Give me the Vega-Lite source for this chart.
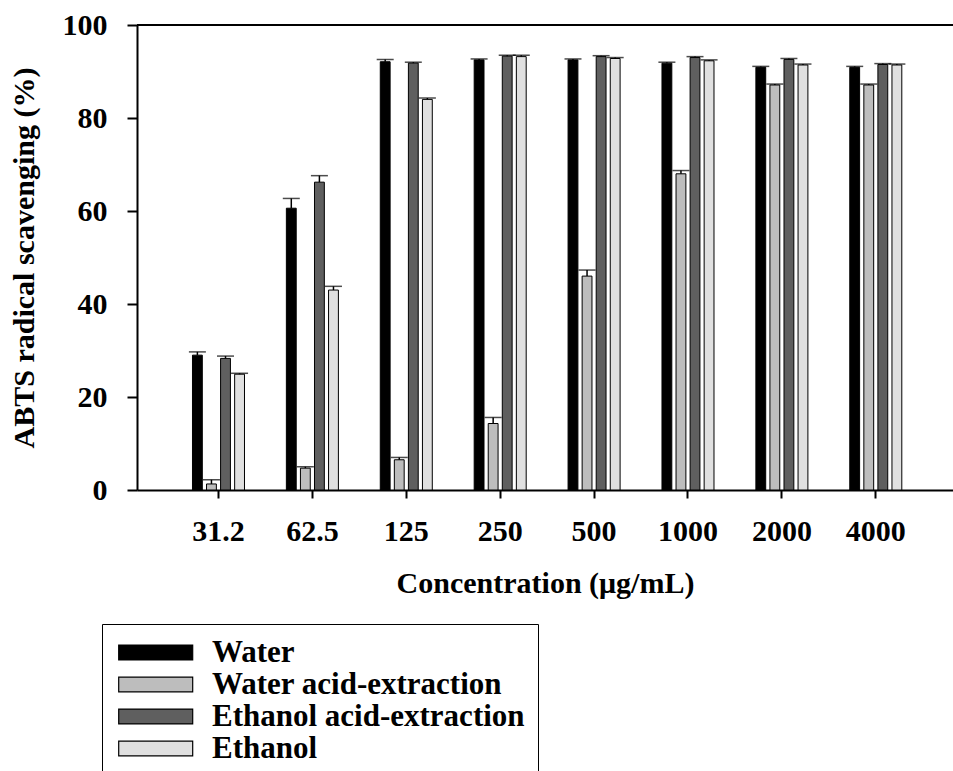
{
  "$schema": "https://vega.github.io/schema/vega-lite/v6.json",
  "width": 816,
  "height": 465,
  "autosize": {"type": "none"},
  "padding": {"left": 137, "top": 25, "right": 0, "bottom": 281},
  "background": "white",
  "config": {
    "view": {"stroke": null},
    "font": "Liberation Serif",
    "axisX": {
      "domainColor": "black", "domainWidth": 2, "tickColor": "black", "tickWidth": 2, "tickSize": 8,
      "labelFont": "Liberation Serif", "labelFontWeight": "bold", "labelFontSize": 30, "labelColor": "black",
      "labelPadding": 18, "labelAngle": 0, "grid": false,
      "titleFont": "Liberation Serif", "titleFontWeight": "bold", "titleFontSize": 30, "titleColor": "black", "titlePadding": 22
    },
    "axisY": {
      "domainColor": "black", "domainWidth": 2, "tickColor": "black", "tickWidth": 2, "tickSize": 10,
      "labelFont": "Liberation Serif", "labelFontWeight": "bold", "labelFontSize": 30, "labelColor": "black",
      "labelPadding": 20, "grid": false,
      "titleFont": "Liberation Serif", "titleFontWeight": "bold", "titleFontSize": 30, "titleColor": "black", "titlePadding": 23
    },
    "legend": {
      "orient": "none", "legendX": -35, "legendY": 599, "strokeColor": "black", "padding": 13,
      "symbolType": "M-1,-0.5H4V0.5H-1Z", "symbolSize": 876, "symbolStrokeColor": "black", "symbolStrokeWidth": 1.2,
      "symbolOffset": 3,
      "labelFont": "Liberation Serif", "labelFontWeight": "bold", "labelFontSize": 31, "labelColor": "black",
      "labelOffset": 63, "rowPadding": 0, "title": null, "symbolOpacity": 1, "labelLimit": 600
    }
  },
  "data": {
    "values": [
      {"conc": "31.2", "series": "Water", "value": 29.0, "hi": 29.7},
      {"conc": "31.2", "series": "Water acid-extraction", "value": 1.3, "hi": 2.2},
      {"conc": "31.2", "series": "Ethanol acid-extraction", "value": 28.3, "hi": 28.8},
      {"conc": "31.2", "series": "Ethanol", "value": 24.9, "hi": 25.1},
      {"conc": "62.5", "series": "Water", "value": 60.6, "hi": 62.7},
      {"conc": "62.5", "series": "Water acid-extraction", "value": 4.7, "hi": 5.0},
      {"conc": "62.5", "series": "Ethanol acid-extraction", "value": 66.2, "hi": 67.6},
      {"conc": "62.5", "series": "Ethanol", "value": 43.0, "hi": 43.8},
      {"conc": "125", "series": "Water", "value": 92.1, "hi": 92.6},
      {"conc": "125", "series": "Water acid-extraction", "value": 6.5, "hi": 7.0},
      {"conc": "125", "series": "Ethanol acid-extraction", "value": 91.8, "hi": 92.0},
      {"conc": "125", "series": "Ethanol", "value": 84.0, "hi": 84.3},
      {"conc": "250", "series": "Water", "value": 92.5, "hi": 92.7},
      {"conc": "250", "series": "Water acid-extraction", "value": 14.3, "hi": 15.6},
      {"conc": "250", "series": "Ethanol acid-extraction", "value": 93.3, "hi": 93.5},
      {"conc": "250", "series": "Ethanol", "value": 93.2, "hi": 93.5},
      {"conc": "500", "series": "Water", "value": 92.5, "hi": 92.7},
      {"conc": "500", "series": "Water acid-extraction", "value": 46.0, "hi": 47.3},
      {"conc": "500", "series": "Ethanol acid-extraction", "value": 93.2, "hi": 93.4},
      {"conc": "500", "series": "Ethanol", "value": 92.8, "hi": 93.0},
      {"conc": "1000", "series": "Water", "value": 91.8, "hi": 92.0},
      {"conc": "1000", "series": "Water acid-extraction", "value": 68.0, "hi": 68.7},
      {"conc": "1000", "series": "Ethanol acid-extraction", "value": 93.0, "hi": 93.2},
      {"conc": "1000", "series": "Ethanol", "value": 92.3, "hi": 92.5},
      {"conc": "2000", "series": "Water", "value": 90.9, "hi": 91.1},
      {"conc": "2000", "series": "Water acid-extraction", "value": 87.1, "hi": 87.3},
      {"conc": "2000", "series": "Ethanol acid-extraction", "value": 92.6, "hi": 92.8},
      {"conc": "2000", "series": "Ethanol", "value": 91.4, "hi": 91.6},
      {"conc": "4000", "series": "Water", "value": 90.9, "hi": 91.1},
      {"conc": "4000", "series": "Water acid-extraction", "value": 87.1, "hi": 87.3},
      {"conc": "4000", "series": "Ethanol acid-extraction", "value": 91.5, "hi": 91.7},
      {"conc": "4000", "series": "Ethanol", "value": 91.4, "hi": 91.6}
    ]
  },
  "layer": [
    {
      "mark": {"type": "rule", "color": "black", "strokeWidth": 2},
      "encoding": {
        "y": {"datum": 100, "type": "quantitative", "scale": {"domain": [0, 100], "nice": false}, "title": "ABTS radical scavenging (%)"}
      }
    },
    {
      "mark": {"type": "bar", "stroke": "black", "strokeWidth": 1},
      "encoding": {
        "x": {"field": "conc", "type": "nominal", "sort": ["31.2", "62.5", "125", "250", "500", "1000", "2000", "4000"],
              "scale": {"paddingInner": 0.446, "paddingOuter": 0.568, "align": 0.52},
              "title": "Concentration (μg/mL)"},
        "xOffset": {"field": "series", "type": "nominal", "sort": ["Water", "Water acid-extraction", "Ethanol acid-extraction", "Ethanol"],
                    "scale": {"paddingInner": 0.3, "paddingOuter": 0}},
        "y": {"field": "value", "type": "quantitative", "scale": {"domain": [0, 100], "nice": false},
              "axis": {"values": [0, 20, 40, 60, 80, 100]}, "title": "ABTS radical scavenging (%)"},
        "fill": {"field": "series", "type": "nominal",
                 "scale": {"domain": ["Water", "Water acid-extraction", "Ethanol acid-extraction", "Ethanol"],
                           "range": ["#000000", "#bdbdbd", "#5f5f5f", "#e0e0e0"]}}
      }
    },
    {
      "mark": {"type": "rule", "color": "black", "strokeWidth": 1.5},
      "encoding": {
        "x": {"field": "conc", "type": "nominal", "sort": ["31.2", "62.5", "125", "250", "500", "1000", "2000", "4000"], "title": "Concentration (μg/mL)"},
        "xOffset": {"field": "series", "type": "nominal", "sort": ["Water", "Water acid-extraction", "Ethanol acid-extraction", "Ethanol"]},
        "y": {"field": "value", "type": "quantitative", "title": "ABTS radical scavenging (%)"},
        "y2": {"field": "hi"}
      }
    },
    {
      "mark": {"type": "tick", "color": "black", "size": 17, "thickness": 1.5},
      "encoding": {
        "x": {"field": "conc", "type": "nominal", "sort": ["31.2", "62.5", "125", "250", "500", "1000", "2000", "4000"], "title": "Concentration (μg/mL)"},
        "xOffset": {"field": "series", "type": "nominal", "sort": ["Water", "Water acid-extraction", "Ethanol acid-extraction", "Ethanol"]},
        "y": {"field": "hi", "type": "quantitative", "title": "ABTS radical scavenging (%)"}
      }
    }
  ]
}
